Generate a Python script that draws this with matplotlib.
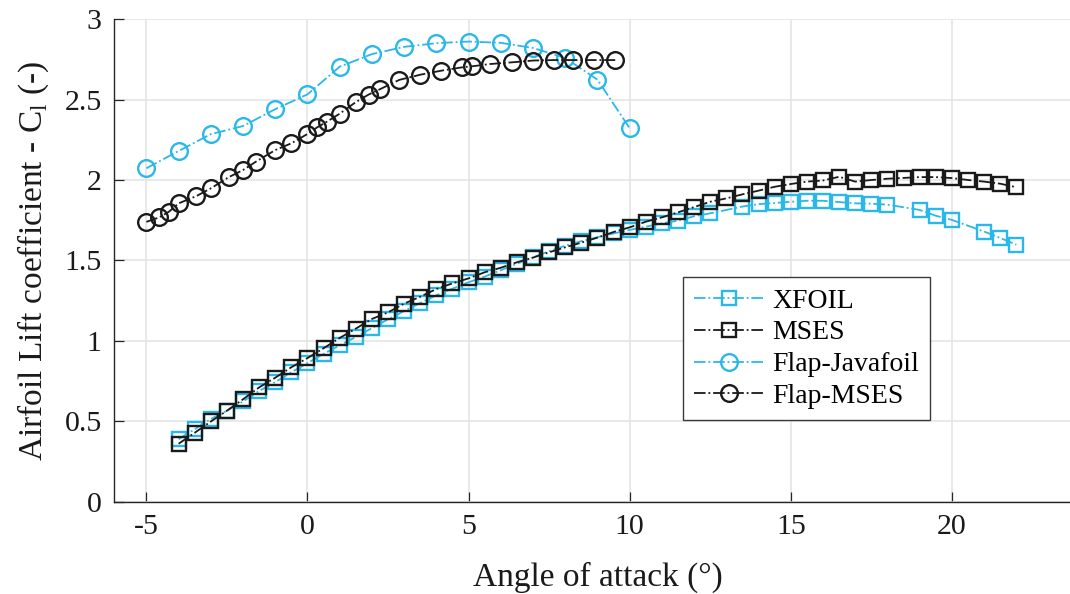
import numpy as np
import matplotlib
matplotlib.use("Agg")
import matplotlib.pyplot as plt

plt.rcParams.update({
    "font.family": ["Liberation Serif", "DejaVu Serif"],
    "mathtext.fontset": "custom",
    "mathtext.rm": "Liberation Serif",
    "axes.unicode_minus": False,
})

# Clean airfoil polars
aoa_xfoil = [-4, -3.5, -3, -2.5, -2, -1.5, -1, -0.5, 0, 0.5, 1, 1.5, 2, 2.5, 3, 3.5,
             4, 4.5, 5, 5.5, 6, 6.5, 7, 7.5, 8, 8.5, 9, 9.5, 10, 10.5, 11, 11.5, 12,
             12.5, 13.5, 14, 14.5, 15, 15.5, 16, 16.5, 17, 17.5, 18, 19, 19.5, 20,
             21, 21.5, 22]
cl_xfoil = [0.39, 0.452, 0.515, 0.567, 0.625, 0.69, 0.745, 0.806, 0.863, 0.92, 0.973,
            1.025, 1.08, 1.135, 1.186, 1.236, 1.284, 1.325, 1.365, 1.40, 1.44, 1.48,
            1.52, 1.558, 1.592, 1.62, 1.645, 1.668, 1.69, 1.71, 1.73, 1.748, 1.775,
            1.793, 1.835, 1.85, 1.857, 1.865, 1.871, 1.871, 1.863, 1.855, 1.853,
            1.847, 1.814, 1.778, 1.752, 1.68, 1.64, 1.598]

aoa_mses = [-4, -3.5, -3, -2.5, -2, -1.5, -1, -0.5, 0, 0.5, 1, 1.5, 2, 2.5, 3, 3.5,
            4, 4.5, 5, 5.5, 6, 6.5, 7, 7.5, 8, 8.5, 9, 9.5, 10, 10.5, 11, 11.5, 12,
            12.5, 13, 13.5, 14, 14.5, 15, 15.5, 16, 16.5, 17, 17.5, 18, 18.5, 19,
            19.5, 20, 20.5, 21, 21.5, 22]
cl_mses = [0.362, 0.43, 0.50, 0.567, 0.638, 0.712, 0.772, 0.837, 0.894, 0.955, 1.019,
           1.077, 1.137, 1.178, 1.232, 1.275, 1.323, 1.358, 1.389, 1.427, 1.455,
           1.489, 1.518, 1.551, 1.582, 1.611, 1.642, 1.677, 1.706, 1.741, 1.768,
           1.799, 1.832, 1.865, 1.886, 1.911, 1.934, 1.958, 1.975, 1.99, 1.997,
           2.02, 1.99, 2.0, 2.008, 2.013, 2.018, 2.018, 2.012, 2.0, 1.99, 1.977,
           1.955]

# Flapped airfoil polars
aoa_flap_java = [-5, -4, -3, -2, -1, 0, 1, 2, 3, 4, 5, 6, 7, 8, 9, 10]
cl_flap_java = [2.073, 2.18, 2.285, 2.335, 2.44, 2.532, 2.704, 2.782, 2.827, 2.85,
                2.86, 2.852, 2.82, 2.758, 2.623, 2.321]

aoa_flap_mses = [-5, -4.6, -4.3, -4, -3.45, -3, -2.45, -2, -1.6, -1, -0.5, 0, 0.3,
                 0.6, 1, 1.5, 1.9, 2.25, 2.85, 3.5, 4.15, 4.8, 5.1, 5.65, 6.35, 7,
                 7.65, 8.25, 8.9, 9.55]
cl_flap_mses = [1.74, 1.768, 1.803, 1.855, 1.90, 1.948, 2.017, 2.062, 2.114, 2.186,
                2.228, 2.286, 2.327, 2.362, 2.412, 2.484, 2.531, 2.564, 2.622, 2.654,
                2.679, 2.70, 2.706, 2.72, 2.731, 2.742, 2.745, 2.745, 2.745, 2.745]

x_ticks = [-5, 0, 5, 10, 15, 20]
y_ticks = [0, 0.5, 1, 1.5, 2, 2.5, 3]
y_tick_labels = ["0", "0.5", "1", "1.5", "2", "2.5", "3"]

CYAN = "#2ab8ea"
DARK = "#1a1a1a"

fig = plt.figure(figsize=(10.7, 5.94), dpi=100)
ax = fig.add_axes([0.1067, 0.1549, 0.9034, 0.8131])

common = dict(linestyle="-.", linewidth=1.3, markerfacecolor="none",
              markeredgewidth=1.7)
ax.plot(aoa_xfoil, cl_xfoil, color=CYAN, marker="s", markersize=9.6,
        label="XFOIL", **common)
ax.plot(aoa_mses, cl_mses, color=DARK, marker="s", markersize=9.6,
        label="MSES", **common)
ax.plot(aoa_flap_java, cl_flap_java, color=CYAN, marker="o", markersize=12,
        label="Flap-Javafoil", **common)
ax.plot(aoa_flap_mses, cl_flap_mses, color=DARK, marker="o", markersize=12,
        label="Flap-MSES", **common)

ax.set_xlim(-6, 24)
ax.set_ylim(0, 3)
ax.set_xticks(x_ticks)
ax.set_xticklabels([str(t) for t in x_ticks])
ax.set_yticks(y_ticks)
ax.set_yticklabels(y_tick_labels)

ax.grid(True, color="#e3e3e3", linewidth=1.1)
ax.set_axisbelow(True)
for side in ("top", "right"):
    ax.spines[side].set_visible(False)
for side in ("left", "bottom"):
    ax.spines[side].set_color("#262626")
    ax.spines[side].set_linewidth(1.0)

ax.tick_params(direction="in", length=7, width=0.9, colors="#262626",
               labelsize=21.5, labelcolor="#1a1a1a")
ax.tick_params(axis="x", pad=9)
ax.tick_params(axis="y", pad=9)

ax.set_xlabel("Angle of attack (°)", fontsize=24, color="#1a1a1a", labelpad=15)
ax.set_ylabel(r"Airfoil Lift coefficient - C$_\mathregular{l}$ (-)", fontsize=24,
              color="#1a1a1a", labelpad=10)

leg = ax.legend(loc="upper left", bbox_to_anchor=(0.5885, 0.4658), fontsize=20,
                frameon=True, fancybox=False, framealpha=1, edgecolor="#3a3a3a",
                borderpad=0.4, handlelength=2.5, handletextpad=0.3,
                labelspacing=0.23, borderaxespad=0, numpoints=1)
leg.get_frame().set_linewidth(1.0)

fig.savefig("out.png", dpi=100)
